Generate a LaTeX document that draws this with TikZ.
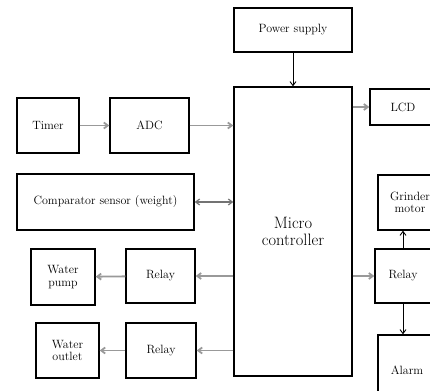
\documentclass[tikz,border=0pt]{standalone}
\usepackage{tikz}
\usetikzlibrary{arrows.meta}
\tikzset{
  blk/.style={draw, line width=1.4pt, rectangle, align=center, inner sep=1pt,
    font=\fontsize{12}{12.5}\selectfont},
  garrow/.style={-{Straight Barb[length=4pt,width=6pt]}, line width=1.8pt, draw=black!40},
  barrow/.style={-{Straight Barb[length=4pt,width=6pt]}, line width=0.9pt}
}
\begin{document}
\begin{tikzpicture}[x=1pt,y=-1pt]
\useasboundingbox (0,0) rectangle (430,390);
\clip (0,0) rectangle (430,390);

\node[blk, minimum width=118pt, minimum height=44pt] (pwr) at (293,30) {Power supply};
\node[blk, minimum width=118pt, minimum height=289pt, font=\fontsize{16.5}{17}\selectfont] (mc) at (293,231.5) {Micro\\controller};
\node[blk, minimum width=66pt, minimum height=36pt] (lcd) at (403,107) {LCD};

\node[blk, minimum width=62pt, minimum height=55pt] (tmr) at (48,125.5) {Timer};
\node[blk, minimum width=79pt, minimum height=55pt] (adc) at (149.5,125.5) {ADC};
\node[blk, minimum width=177pt, minimum height=56pt] (cmp) at (105.5,202) {Comparator sensor (weight)};

\node[blk, minimum width=64pt, minimum height=56pt] (pump) at (63,277) {Water\\pump};
\node[blk, minimum width=69pt, minimum height=54pt] (rl1) at (160.5,276) {Relay};
\node[blk, minimum width=63pt, minimum height=55pt] (outl) at (67.5,350.5) {Water\\outlet};
\node[blk, minimum width=70pt, minimum height=55pt] (rl2) at (161,350.5) {Relay};

\node[blk, minimum width=64pt, minimum height=55pt] (grd) at (410,202.5) {Grinder\\motor};
\node[blk, minimum width=56pt, minimum height=54pt] (rl3) at (403,276) {Relay};
\node[blk, minimum width=58pt, minimum height=70pt] (alm) at (407,370) {Alarm};

\draw[barrow] (pwr) -- (mc);
\draw[garrow] (tmr) -- (adc);
\draw[garrow] (adc.east) -- (adc.east -| mc.west);
\draw[garrow] (lcd.west -| mc.east) -- (lcd.west);
\draw[{Straight Barb[length=4pt,width=6pt]}-{Straight Barb[length=4pt,width=6pt]}, line width=1.2pt, draw=black!55] (cmp.east) -- (cmp.east -| mc.west);
\draw[garrow] (mc.west |- rl1.east) -- (rl1.east);
\draw[garrow] (rl1) -- (pump);
\draw[garrow] (mc.west |- rl2.east) -- (rl2.east);
\draw[garrow] (rl2) -- (outl);
\draw[garrow] (rl3.west -| mc.east) -- (rl3.west);
\draw[barrow] (rl3.north) -- (rl3.north |- grd.south);
\draw[barrow] (rl3.south) -- (rl3.south |- alm.north);
\end{tikzpicture}
\end{document}
